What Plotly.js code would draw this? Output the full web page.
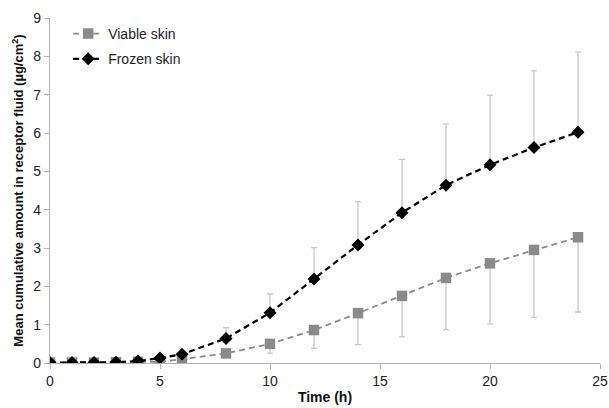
<!DOCTYPE html>
<html>
<head>
<meta charset="utf-8">
<script src="https://cdn.plot.ly/plotly-3.0.1.min.js"></script>
<style>html,body{margin:0;padding:0;background:#fff;}#chart{width:609px;height:408px;}</style>
</head>
<body>
<div id="chart"></div>
<script>
const timeH = [0, 1, 2, 3, 4, 5, 6, 8, 10, 12, 14, 16, 18, 20, 22, 24];
const viableMean = [0.01, 0.01, 0.01, 0.02, 0.03, 0.03, 0.10, 0.25, 0.50, 0.86, 1.30, 1.75, 2.22, 2.60, 2.95, 3.28];
const viableLowerErr = [0, 0, 0, 0, 0, 0, 0.03, 0.05, 0.24, 0.48, 0.82, 1.07, 1.35, 1.58, 1.76, 1.95];
const frozenMean = [0.01, 0.01, 0.01, 0.02, 0.05, 0.13, 0.23, 0.64, 1.31, 2.19, 3.08, 3.92, 4.64, 5.17, 5.62, 6.02];
const frozenUpperErr = [0, 0, 0, 0, 0, 0, 0.03, 0.28, 0.49, 0.82, 1.13, 1.39, 1.60, 1.82, 2.00, 2.09];
const zeros = timeH.map(() => 0);

const traces = [
  {
    x: timeH, y: viableMean, name: 'Viable skin', type: 'scatter', mode: 'lines+markers', legendgroup: 'v',
    line: {color: '#8a8a8a', width: 1.8, dash: '6px,4px'},
    marker: {symbol: 'square', size: 10.5, color: '#8a8a8a'},
    error_y: {type: 'data', symmetric: false, array: zeros, arrayminus: viableLowerErr, color: '#c8c8c8', thickness: 1.3, width: 3}
  },
  {
    x: timeH, y: frozenMean, name: 'Frozen skin', type: 'scatter', mode: 'lines+markers', legendgroup: 'f',
    line: {color: '#000000', width: 2.2, dash: '6px,4px'},
    marker: {symbol: 'diamond', size: 10, color: '#000000'},
    error_y: {type: 'data', symmetric: false, array: frozenUpperErr, arrayminus: zeros, color: '#c8c8c8', thickness: 1.3, width: 3}
  }
];

const layout = {
  width: 609, height: 408,
  margin: {l: 50, r: 9, t: 18, b: 45},
  paper_bgcolor: '#ffffff', plot_bgcolor: '#ffffff',
  font: {family: 'Liberation Sans, Arial, sans-serif', color: '#222'},
  showlegend: true,
  legend: {x: 0.033, y: 1.0, xanchor: 'left', yanchor: 'top', font: {size: 14, color: '#222'}, bgcolor: 'rgba(0,0,0,0)', traceorder: 'grouped', tracegroupgap: 4},
  xaxis: {
    range: [0, 25], tickvals: [0, 5, 10, 15, 20, 25], showgrid: false, zeroline: false,
    showline: true, linecolor: '#b4b4b4', linewidth: 1.2, ticks: 'outside', ticklen: 5, tickcolor: '#b4b4b4',
    tickfont: {size: 14, color: '#222'},
    title: {text: '<b>Time (h)</b>', font: {size: 14, color: '#111'}, standoff: 4}
  },
  yaxis: {
    range: [0, 9], tickvals: [0,1,2,3,4,5,6,7,8,9], showgrid: false, zeroline: false,
    showline: true, linecolor: '#b4b4b4', linewidth: 1.2, ticks: 'outside', ticklen: 5, tickcolor: '#b4b4b4',
    tickfont: {size: 14, color: '#222'},
    title: {text: '<b>Mean cumulative amount in receptor fluid (µg/cm<sup>2</sup>)</b>', font: {size: 13, color: '#111'}, standoff: 6}
  }
};

Plotly.newPlot('chart', traces, layout, {displayModeBar: false, staticPlot: true});
</script>
</body>
</html>
